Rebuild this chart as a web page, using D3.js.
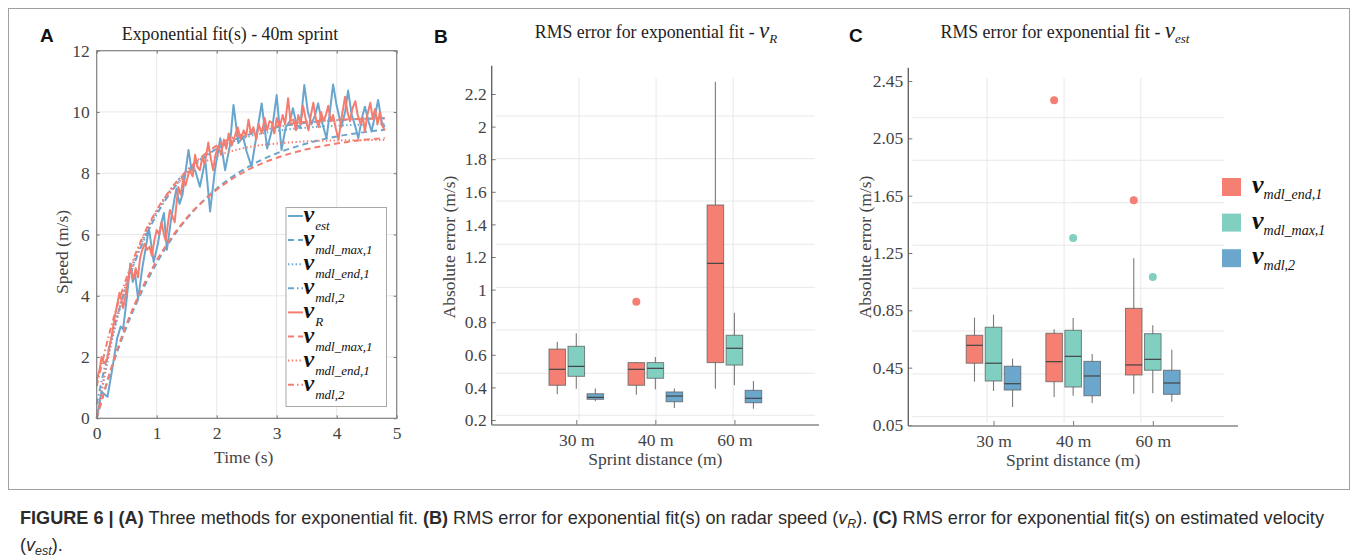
<!DOCTYPE html>
<html><head><meta charset="utf-8">
<script src="https://cdn.jsdelivr.net/npm/d3@7"></script>
<style>body{margin:0;background:#fff}svg{display:block}</style>
</head><body>
<svg id="c" width="1358" height="560"></svg>
<script>
// ---------------- DATA ----------------
// Panel A: measured speeds (time in s, speed in m/s)
const estT = [0,0.03,0.08,0.12,0.18,0.25,0.34,0.40,0.44,0.50,0.56,0.60,0.64,0.69,0.76,0.82,0.87,0.90,0.95,1.02,1.08,1.12,1.17,1.24,1.30,1.33,1.38,1.43,1.47,1.53,1.58,1.64,1.72,1.81,1.89,1.97,2.06,2.14,2.22,2.28,2.36,2.44,2.50,2.58,2.66,2.75,2.84,2.92,3.00,3.08,3.15,3.22,3.27,3.33,3.39,3.46,3.52,3.58,3.64,3.69,3.75,3.83,3.88,3.94,4.00,4.08,4.14,4.19,4.25,4.30,4.36,4.42,4.47,4.53,4.58,4.64,4.69,4.75,4.80];
const estV = [0,0.3,0.87,0.8,0.7,1.5,2.6,3.0,2.9,3.9,5.05,4.45,4.7,3.9,4.9,5.6,6.2,5.8,5.1,5.7,6.4,6.7,5.5,6.5,7.2,7.5,7.0,7.3,7.9,8.76,8.1,8.1,7.56,8.43,6.75,8.1,9.14,8.1,8.9,10.23,8.98,9.19,8.7,8.21,9.2,10.28,8.81,9.4,10.55,8.76,9.5,9.7,10.12,9.6,9.47,10.88,10.0,9.6,9.9,10.28,9.7,9.14,9.9,10.9,10.2,9.52,10.0,10.7,9.9,9.6,9.14,9.8,10.17,9.7,9.36,9.9,10.39,9.68,9.5];
const radarT = [0,0.05,0.08,0.12,0.17,0.21,0.25,0.30,0.34,0.38,0.41,0.44,0.48,0.52,0.56,0.61,0.65,0.69,0.72,0.76,0.80,0.84,0.88,0.92,0.96,1.00,1.04,1.08,1.12,1.15,1.19,1.22,1.26,1.30,1.33,1.36,1.40,1.44,1.48,1.52,1.55,1.60,1.64,1.68,1.72,1.76,1.80,1.86,1.90,1.94,1.98,2.03,2.07,2.12,2.16,2.20,2.25,2.30,2.35,2.40,2.45,2.49,2.53,2.57,2.61,2.66,2.70,2.75,2.80,2.84,2.88,2.92,2.96,3.00,3.05,3.10,3.14,3.19,3.23,3.28,3.32,3.36,3.40,3.44,3.49,3.53,3.57,3.61,3.65,3.70,3.74,3.78,3.82,3.86,3.90,3.94,3.98,4.03,4.08,4.14,4.18,4.22,4.26,4.31,4.35,4.40,4.44,4.47,4.51,4.56,4.60,4.64,4.68,4.72,4.75,4.80];
const radarV = [1.25,1.6,2.0,1.8,1.9,2.3,2.7,3.3,3.7,4.1,3.9,3.6,4.0,4.5,4.95,4.55,4.9,4.6,5.2,5.5,5.7,5.5,5.6,5.3,5.8,6.15,6.0,6.4,6.0,5.8,6.4,6.8,6.6,6.4,7.0,7.55,7.3,7.8,7.6,7.9,8.1,7.9,8.6,8.2,8.1,8.5,8.3,9.0,8.5,8.1,8.6,8.9,8.6,9.1,8.8,9.3,8.9,9.2,9.5,9.1,9.4,9.2,9.75,9.3,9.5,9.1,9.6,9.3,9.8,9.4,9.7,9.65,9.3,9.8,9.5,9.9,9.6,10.45,9.7,9.75,9.4,9.9,9.6,10.2,9.7,9.4,9.9,10.3,9.8,9.5,10.0,9.7,9.9,10.2,9.7,9.9,9.5,9.1,9.8,10.5,10.0,9.7,10.1,10.35,9.9,9.6,9.8,9.35,9.9,10.3,9.8,10.1,9.6,10.0,9.6,9.4];
// Panel A: fitted curves read at these times
const fitT    = [0,0.25,0.5,0.75,1,1.25,1.5,2,2.5,3,3.5,4,4.5,4.8];
const estMax1 = [0,1.64,3.00,4.13,5.07,5.86,6.51,7.50,8.18,8.65,8.97,9.20,9.35,9.42];
const estEnd1 = [0,2.50,4.35,5.72,6.75,7.52,8.08,8.80,9.18,9.38,9.49,9.55,9.59,9.60];
const estMdl2 = [0.45,2.65,4.35,5.65,6.65,7.42,8.00,8.80,9.24,9.50,9.65,9.73,9.78,9.80];
const rMax1   = [0,1.69,3.09,4.22,5.15,5.91,6.54,7.46,8.09,8.50,8.78,8.97,9.10,9.15];
const rEnd1   = [0,2.60,4.45,5.80,6.75,7.45,7.97,8.55,8.84,8.97,9.04,9.07,9.08,9.09];
const rMdl2   = [1.05,3.05,4.60,5.85,6.80,7.52,8.08,8.90,9.32,9.55,9.68,9.74,9.78,9.79];
const timeTicks = [0,1,2,3,4,5];
const speedTicks = [0,2,4,6,8,10,12];
const legendSubsA = ["est","mdl_max,1","mdl_end,1","mdl,2","R","mdl_max,1","mdl_end,1","mdl,2"];

// Panels B & C: box statistics [low whisker, Q1, median, Q3, high whisker]
const distances = ["30 m","40 m","60 m"];
const seriesKeys = ["mdl_end,1","mdl_max,1","mdl,2"];
const boxR_end1 = [[0.358,0.413,0.511,0.635,0.680],[0.355,0.413,0.511,0.552,0.556],[0.392,0.552,1.161,1.519,2.275]];
const boxR_max1 = [[0.392,0.468,0.529,0.652,0.732],[0.388,0.456,0.517,0.552,0.587],[0.413,0.537,0.640,0.720,0.858]];
const boxR_mdl2 = [[0.315,0.327,0.339,0.361,0.394],[0.274,0.312,0.347,0.372,0.394],[0.269,0.306,0.333,0.382,0.439]];
const outR = [["40 m",0,0.926]];
const boxE_end1 = [[0.352,0.481,0.606,0.676,0.799],[0.245,0.352,0.492,0.690,0.718],[0.268,0.399,0.469,0.864,1.213]];
const boxE_max1 = [[0.287,0.357,0.481,0.732,0.820],[0.254,0.315,0.529,0.711,0.797],[0.271,0.432,0.508,0.687,0.746]];
const boxE_mdl2 = [[0.176,0.294,0.338,0.460,0.513],[0.204,0.254,0.392,0.494,0.545],[0.213,0.264,0.343,0.432,0.575]];
const outE = [["40 m",0,2.316],["40 m",1,1.355],["60 m",0,1.618],["60 m",1,1.083]];
const ticksB = [0.2,0.4,0.6,0.8,1,1.2,1.4,1.6,1.8,2,2.2];
const tickLabelsB = ["0.2","0.4","0.6","0.8","1","1.2","1.4","1.6","1.8","2","2.2"];
const gridYB = [0.229,0.487,0.752,1.014,1.278,1.543,1.803,2.065];
const gridXB = [0.034,1.009,1.984];
const ticksC = [0.05,0.45,0.85,1.25,1.65,2.05,2.45];
const tickLabelsC = ["0.05","0.45","0.85","1.25","1.65","2.05","2.45"];
const gridYC = [0.108,0.406,0.706,1.004,1.304,1.601,1.897,2.194];
const gridXC = [-0.081,0.886,1.85];

// ---------------- STYLE ----------------
const SERIF = "'Liberation Serif','Times New Roman',serif";
const SANS = "'Liberation Sans',Arial,Helvetica,sans-serif";
const BLUE = "#69a6cf", RED = "#f47d70";
const FILL = ["#f47f72","#80cfc0","#6ba7cd"];
const GRID = "#e8e8e8";

const svg = d3.select("#c");
svg.append("rect").attr("x",8.5).attr("y",8.5).attr("width",1341).attr("height",481)
  .attr("fill","none").attr("stroke","#a0a0a0");

// panel letters
[["A",40,42],["B",434,43],["C",849,42]].forEach(([t,x,y]) =>
  svg.append("text").attr("x",x).attr("y",y).attr("font-family",SANS).attr("font-weight","bold")
    .attr("font-size",19).attr("fill","#111").text(t));

// ---------------- PANEL A ----------------
const xA = d3.scaleLinear().domain([0,5]).range([96.7,396.7]);
const yA = d3.scaleLinear().domain([0,12]).range([418.3,50.7]);
const gA = svg.append("g");
gA.selectAll(".gx").data(timeTicks.slice(1,-1)).join("line")
  .attr("x1",d=>xA(d)).attr("x2",d=>xA(d)).attr("y1",yA(0)).attr("y2",yA(12))
  .attr("stroke",GRID).attr("stroke-width",1);
gA.selectAll(".gy").data(speedTicks.slice(1,-1)).join("line")
  .attr("y1",d=>yA(d)).attr("y2",d=>yA(d)).attr("x1",xA(0)).attr("x2",xA(5))
  .attr("stroke",GRID).attr("stroke-width",1);

const lineA = d3.line().x(d=>xA(d[0])).y(d=>yA(d[1]));
const fitLine = d3.line().x(d=>xA(d[0])).y(d=>yA(d[1])).curve(d3.curveMonotoneX);
const DASH = "6,4", DOT = "1.4,2.4", DASHDOT = "6,3,1.5,3";
function path(g, gen, data, color, dash, w){
  g.append("path").attr("d",gen(data)).attr("fill","none").attr("stroke",color)
   .attr("stroke-width",w).attr("stroke-dasharray",dash||null).attr("stroke-linejoin","round");
}
path(gA, lineA, d3.zip(estT,estV), BLUE, null, 2);
path(gA, fitLine, d3.zip(fitT,estMax1), BLUE, DASH, 2);
path(gA, fitLine, d3.zip(fitT,estEnd1), BLUE, DOT, 2);
path(gA, fitLine, d3.zip(fitT,estMdl2), BLUE, DASHDOT, 2);
path(gA, lineA, d3.zip(radarT,radarV), RED, null, 2);
path(gA, fitLine, d3.zip(fitT,rMax1), RED, DASH, 2);
path(gA, fitLine, d3.zip(fitT,rEnd1), RED, DOT, 2);
path(gA, fitLine, d3.zip(fitT,rMdl2), RED, DASHDOT, 2);

function styleAxis(g, size){
  g.select(".domain").remove();
  g.selectAll(".tick line").attr("stroke","#777");
  g.selectAll(".tick text").attr("font-family",SERIF).attr("font-size",size).attr("fill","#444");
}
gA.append("g").attr("transform",`translate(0,${yA(0)})`)
  .call(d3.axisBottom(xA).tickValues(timeTicks).tickSize(-3).tickPadding(8.5).tickFormat(d3.format("d")))
  .call(g=>styleAxis(g,17.5));
gA.append("g").attr("transform",`translate(${xA(0)},0)`)
  .call(d3.axisLeft(yA).tickValues(speedTicks).tickSize(-3).tickPadding(7).tickFormat(d3.format("d")))
  .call(g=>styleAxis(g,17.5));
gA.append("g").attr("transform",`translate(0,${yA(12)})`)
  .call(d3.axisTop(xA).tickValues(timeTicks).tickSize(-3).tickFormat(""))
  .call(g=>styleAxis(g,17));
gA.append("g").attr("transform",`translate(${xA(5)},0)`)
  .call(d3.axisRight(yA).tickValues(speedTicks).tickSize(-3).tickFormat(""))
  .call(g=>styleAxis(g,17));
gA.append("rect").attr("x",xA(0)).attr("y",yA(12)).attr("width",xA(5)-xA(0)).attr("height",yA(0)-yA(12))
  .attr("fill","none").attr("stroke","#808080").attr("stroke-width",1.2);

gA.append("text").attr("x",230).attr("y",40).attr("text-anchor","middle").attr("font-family",SERIF)
  .attr("font-size",17.8).attr("fill","#222").text("Exponential fit(s) - 40m sprint");
gA.append("text").attr("x",xA(2.45)).attr("y",463).attr("text-anchor","middle").attr("font-family",SERIF)
  .attr("font-size",17.5).attr("fill","#444").text("Time (s)");
gA.append("text").attr("transform","translate(68,252) rotate(-90)").attr("text-anchor","middle")
  .attr("font-family",SERIF).attr("font-size",17.5).attr("fill","#444").text("Speed (m/s)");

// legend A
const legA = gA.append("g");
legA.append("rect").attr("x",286).attr("y",207.5).attr("width",100.5).attr("height",199)
  .attr("fill","#fff").attr("stroke","#a8a8a8");
const legStyles = [[BLUE,null],[BLUE,DASH],[BLUE,DOT],[BLUE,DASHDOT],[RED,null],[RED,DASH],[RED,DOT],[RED,DASHDOT]];
legendSubsA.forEach((s,i)=>{
  const y = 216 + i*24.1;
  legA.append("line").attr("x1",288).attr("x2",303).attr("y1",y).attr("y2",y)
    .attr("stroke",legStyles[i][0]).attr("stroke-width",2).attr("stroke-dasharray",legStyles[i][1]);
  const t = legA.append("text").attr("x",303.5).attr("y",y+6).attr("font-family",SERIF).attr("fill","#111");
  t.append("tspan").attr("font-style","italic").attr("font-weight","bold").attr("font-size",24).text("v");
  t.append("tspan").attr("font-style","italic").attr("font-size",13).attr("dy",8).attr("dx",1).text(s);
});

// ---------------- BOX PANELS ----------------
function boxPanel(cfg){
  const g = svg.append("g");
  const x = d3.scalePoint().domain(distances).range([cfg.left,cfg.right]).padding(1.07);
  const xi = d3.scaleLinear().domain([0,2]).range([x(distances[0]),x(distances[2])]);
  const inner = d3.scaleBand().domain(seriesKeys).range([-27.3,27.3]).paddingInner(0.13);
  const y = d3.scaleLinear().domain(cfg.domain).range(cfg.range);
  // grid
  g.selectAll(".gy").data(cfg.gridY).join("line").attr("x1",cfg.left+4).attr("x2",cfg.gridRight)
    .attr("y1",d=>y(d)).attr("y2",d=>y(d)).attr("stroke",GRID);
  g.selectAll(".gx").data(cfg.gridX).join("line").attr("x1",d=>xi(d)).attr("x2",d=>xi(d))
    .attr("y1",78).attr("y2",cfg.bottom-4).attr("stroke",GRID);
  // boxes
  const bw = inner.bandwidth();
  cfg.boxes.forEach((arr,si)=>{
    arr.forEach((b,di)=>{
      const cx = x(distances[di]) + inner(seriesKeys[si]) + bw/2;
      g.append("line").attr("x1",cx).attr("x2",cx).attr("y1",y(b[0])).attr("y2",y(b[4]))
        .attr("stroke","#7a7a7a").attr("stroke-width",1.1);
      g.append("rect").attr("x",cx-bw/2).attr("y",y(b[3])).attr("width",bw).attr("height",y(b[1])-y(b[3]))
        .attr("fill",FILL[si]).attr("stroke","#5c5c5c").attr("stroke-opacity",0.75).attr("stroke-width",1);
      g.append("line").attr("x1",cx-bw/2).attr("x2",cx+bw/2).attr("y1",y(b[2])).attr("y2",y(b[2]))
        .attr("stroke","#444").attr("stroke-width",1.2);
    });
  });
  cfg.outliers.forEach(([d,si,v])=>{
    const cx = x(d) + inner(seriesKeys[si]) + bw/2;
    g.append("circle").attr("cx",cx).attr("cy",y(v)).attr("r",4).attr("fill",FILL[si]);
  });
  // axes
  g.append("g").attr("transform",`translate(${cfg.left},0)`)
    .call(d3.axisLeft(y).tickValues(cfg.ticks).tickSize(-4).tickPadding(5).tickFormat((d,i)=>cfg.tickLabels[i]))
    .call(gg=>styleAxis(gg,17.5));
  g.append("g").attr("transform",`translate(0,${cfg.bottom})`)
    .call(d3.axisBottom(x).tickSize(-5).tickPadding(9))
    .call(gg=>styleAxis(gg,17.5));
  g.append("line").attr("x1",cfg.left).attr("x2",cfg.left).attr("y1",cfg.top).attr("y2",cfg.bottom)
    .attr("stroke","#666").attr("stroke-width",1.4);
  g.append("line").attr("x1",cfg.left).attr("x2",cfg.right).attr("y1",cfg.bottom).attr("y2",cfg.bottom)
    .attr("stroke","#888").attr("stroke-width",1.4);
  // labels
  g.append("text").attr("x",x(distances[1])).attr("y",cfg.bottom+40).attr("text-anchor","middle")
    .attr("font-family",SERIF).attr("font-size",17.5).attr("fill","#444").text("Sprint distance (m)");
  g.append("text").attr("transform",`translate(${cfg.left-37},${247}) rotate(-90)`).attr("text-anchor","middle")
    .attr("font-family",SERIF).attr("font-size",17.5).attr("fill","#444").text("Absolute error (m/s)");
  const t = g.append("text").attr("x",cfg.titleX).attr("y",38).attr("text-anchor","middle")
    .attr("font-family",SERIF).attr("font-size",17.8).attr("fill","#222");
  t.append("tspan").text("RMS error for exponential fit - ");
  t.append("tspan").attr("font-style","italic").attr("font-size",23).text("v");
  t.append("tspan").attr("font-style","italic").attr("font-size",13).attr("dy",5).text(cfg.sub);
  return {g,x,y};
}

boxPanel({left:491.7,right:819,top:65.7,bottom:425,gridRight:815,domain:[0.2,2.2],range:[420,94],
  ticks:ticksB,tickLabels:tickLabelsB,gridY:gridYB,gridX:gridXB,
  boxes:[boxR_end1,boxR_max1,boxR_mdl2],outliers:outR,titleX:656,sub:"R"});
boxPanel({left:908.3,right:1238,top:67.7,bottom:426,gridRight:1224,domain:[0.05,2.45],range:[425,81],
  ticks:ticksC,tickLabels:tickLabelsC,gridY:gridYC,gridX:gridXC,
  boxes:[boxE_end1,boxE_max1,boxE_mdl2],outliers:outE,titleX:1065,sub:"est"});

// legend C
seriesKeys.forEach((s,i)=>{
  const y = 178 + i*35.6;
  svg.append("rect").attr("x",1222).attr("y",y).attr("width",19).attr("height",18).attr("fill",FILL[i]);
  const t = svg.append("text").attr("x",1252).attr("y",y+15).attr("font-family",SERIF).attr("fill","#111");
  t.append("tspan").attr("font-style","italic").attr("font-weight","bold").attr("font-size",26).text("v");
  t.append("tspan").attr("font-style","italic").attr("font-size",14).attr("dy",6).attr("dx",0).text(s);
});

// ---------------- CAPTION ----------------
const CAP = 18.1;
const cap = svg.append("text").attr("x",20).attr("y",524).attr("font-family",SANS).attr("font-size",CAP).attr("fill","#2b2b2b");
const parts = [
  ["FIGURE 6 | (A)","b"],[" Three methods for exponential fit. ",""],["(B)","b"],
  [" RMS error for exponential fit(s) on radar speed (",""],["v","i"],["R","sub"],[").","up"],[" ",""],["(C)","b"],
  [" RMS error for exponential fit(s) on estimated velocity",""]];
parts.forEach(([s,k])=>{
  const ts = cap.append("tspan").text(s);
  if(k==="b") ts.attr("font-weight","bold");
  if(k==="i") ts.attr("font-style","italic");
  if(k==="sub") ts.attr("font-style","italic").attr("font-size",12.5).attr("dy",4);
  if(k==="up") ts.attr("dy",-4);
});
const cap2 = svg.append("text").attr("x",20).attr("y",551).attr("font-family",SANS).attr("font-size",CAP).attr("fill","#2b2b2b");
cap2.append("tspan").text("(");
cap2.append("tspan").attr("font-style","italic").text("v");
cap2.append("tspan").attr("font-style","italic").attr("font-size",12.5).attr("dy",4).text("est");
cap2.append("tspan").attr("dy",-4).text(").");
</script>
</body></html>
